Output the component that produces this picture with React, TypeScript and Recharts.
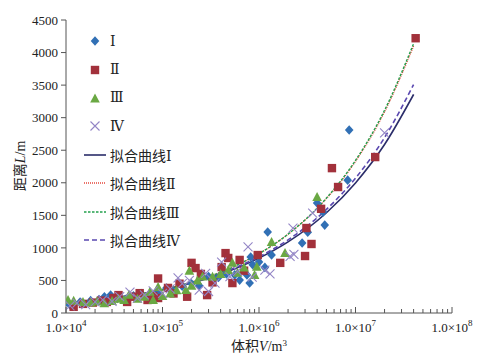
import React from "react";
import { ComposedChart, Scatter, Line, XAxis, YAxis, Legend } from "recharts";

// 散点数据 [体积 V (m³), 距离 L (m)]
const seriesI: [number, number][] = [
  [1.1e4, 125], [1.4e4, 170], [1.8e4, 190], [2.2e4, 205], [2.5e4, 250], [2.9e4, 275],
  [3.4e4, 225], [4.2e4, 215], [5e4, 265], [6e4, 300], [7.5e4, 250], [9e4, 320],
  [1.1e5, 385], [1.3e5, 330], [1.6e5, 410], [2e5, 450], [2.4e5, 420], [3e5, 560],
  [3.8e5, 545], [4.6e5, 600], [5.6e5, 585], [6.3e5, 505], [7.5e5, 585], [8e5, 460],
  [8.2e5, 860], [8.6e5, 740], [1e6, 785], [1.15e6, 700], [1.23e6, 1245], [1.35e6, 890],
  [2.8e6, 1075], [3.2e6, 1240], [4e6, 1690], [4.6e6, 1550], [4.8e6, 1350],
  [8.3e6, 2040], [8.6e6, 2810],
];
const seriesII: [number, number][] = [
  [1.2e4, 95], [1.5e4, 140], [1.9e4, 160], [2.3e4, 190], [2.65e4, 170], [3.1e4, 230],
  [3.5e4, 275], [4.3e4, 170], [5e4, 250], [5.8e4, 305], [7e4, 200], [8e4, 260],
  [9e4, 230], [9e4, 530], [1.14e5, 385], [1.3e5, 300], [1.5e5, 450], [1.8e5, 250],
  [2e5, 770], [2.2e5, 690], [2.5e5, 600], [2.9e5, 275], [3.3e5, 470], [4.1e5, 705],
  [4.5e5, 920], [4.8e5, 845], [5.3e5, 460], [6.3e5, 815], [7e5, 650], [9.7e5, 890],
  [1.66e6, 770], [3e6, 875], [3.1e6, 1305], [3.5e6, 1060], [4.4e6, 1600],
  [5.7e6, 2225], [6.6e6, 1935], [1.6e7, 2395], [4.2e7, 4220],
];
const seriesIII: [number, number][] = [
  [1.05e4, 200], [1.2e4, 190], [1.5e4, 170], [1.8e4, 160], [2.1e4, 175], [2.5e4, 150],
  [3e4, 185], [3.5e4, 220], [4e4, 200], [4.5e4, 280], [5.5e4, 220], [6.5e4, 250],
  [7.4e4, 325], [8e4, 200], [9e4, 400], [1e5, 260], [1.2e5, 300], [1.4e5, 350],
  [1.75e5, 355], [1.9e5, 650], [2e5, 420], [2.3e5, 500], [2.6e5, 560], [3.3e5, 555],
  [4e5, 600], [4.8e5, 660], [5.3e5, 770], [6e5, 620], [7e5, 700], [9e5, 585],
  [9.5e5, 710], [1.35e6, 1090], [1.86e6, 920], [4e6, 1780],
];
const seriesIV: [number, number][] = [
  [1.1e4, 110], [1.3e4, 150], [1.6e4, 130], [2e4, 170], [2.4e4, 200], [3e4, 180],
  [3.6e4, 250], [4.6e4, 320], [5.5e4, 230], [6.5e4, 280], [8e4, 340], [1e5, 300],
  [1.2e5, 370], [1.45e5, 540], [1.6e5, 450], [1.9e5, 500], [2.4e5, 350], [2.8e5, 610],
  [3e5, 330], [3.5e5, 460], [4.1e5, 780], [5e5, 560], [6e5, 640], [7.7e5, 1015],
  [8.5e5, 550], [1.15e6, 660], [1.3e6, 600], [2.1e6, 870], [2.3e6, 900],
  [2.25e6, 1305], [3.6e6, 1535], [2e7, 2765],
];

// 拟合曲线读数
const fitV = [1e4, 2e4, 5e4, 1e5, 2e5, 5e5, 1e6, 2e6, 5e6, 1e7, 2e7, 4e7];
const fitI = [150, 194, 274, 356, 461, 650, 843, 1092, 1540, 1998, 2588, 3356];
const fitII = [140, 186, 270, 357, 474, 688, 912, 1210, 1757, 2328, 3088, 4100];
const fitIII = [138, 183, 267, 355, 471, 686, 912, 1211, 1765, 2343, 3113, 4136];
const fitIV = [150, 195, 276, 360, 468, 663, 863, 1123, 1592, 2071, 2694, 3508];

const yTicks = [0, 500, 1000, 1500, 2000, 2500, 3000, 3500, 4000, 4500];
const decades = [1e4, 1e5, 1e6, 1e7];
const minorSteps = [1, 2, 3, 4, 5, 6, 7, 8, 9];
const xTicks = [...decades.flatMap((d) => minorSteps.map((m) => m * d)), 1e8];

const colors = {
  I: "#3170b5",
  II: "#a2313b",
  III: "#6aa843",
  IV: "#9385c6",
  fitI: "#2b2d6a",
  fitII: "#e5473b",
  fitIII: "#22a04c",
  fitIV: "#5a48b0",
};

const axisColor = "#555";
const serif = "Liberation Serif, DejaVu Serif, serif";
const cjk = "Liberation Serif, DejaVu Serif, Noto Sans CJK SC, serif";

const toPoints = (arr: [number, number][]) => arr.map(([V, L]) => ({ V, L }));
const toCurve = (vals: number[]) => vals.map((L, i) => ({ V: fitV[i], L }));

const Diamond = ({ cx, cy, fill }: any) => (
  <path d={`M${cx},${cy - 4.8}L${cx + 4.3},${cy}L${cx},${cy + 4.8}L${cx - 4.3},${cy}Z`} fill={fill} />
);
const Square = ({ cx, cy, fill }: any) => (
  <rect x={cx - 4.2} y={cy - 4.2} width={8.4} height={8.4} fill={fill} />
);
const Triangle = ({ cx, cy, fill }: any) => (
  <path d={`M${cx},${cy - 5}L${cx + 4.8},${cy + 4}L${cx - 4.8},${cy + 4}Z`} fill={fill} />
);
const Cross = ({ cx, cy, fill }: any) => (
  <path
    d={`M${cx - 4.5},${cy - 4.5}L${cx + 4.5},${cy + 4.5}M${cx - 4.5},${cy + 4.5}L${cx + 4.5},${cy - 4.5}`}
    stroke={fill}
    strokeWidth={1.1}
    fill="none"
  />
);

// 对数轴刻度（向内）
const XTick = (props: any) => {
  const { x, y, payload } = props;
  const v = payload.value as number;
  const exp = Math.round(Math.log10(v));
  const major = Math.abs(v - Math.pow(10, exp)) < v * 1e-6;
  return (
    <g>
      <line x1={x} x2={x} y1={y} y2={y - (major ? 6 : 4)} stroke={axisColor} strokeWidth={1} />
      {major && (
        <text x={x} y={y + 19} textAnchor="middle" fontFamily={serif} fontSize={13} fill="#222">
          {"1.0×10"}
          <tspan dy={-6} fontSize={9}>
            {exp}
          </tspan>
        </text>
      )}
    </g>
  );
};

const legendItems = [
  { label: "Ⅰ", kind: "diamond", color: colors.I },
  { label: "Ⅱ", kind: "square", color: colors.II },
  { label: "Ⅲ", kind: "triangle", color: colors.III },
  { label: "Ⅳ", kind: "cross", color: colors.IV },
  { label: "拟合曲线Ⅰ", kind: "line", color: colors.fitI, dash: undefined, w: 1.6 },
  { label: "拟合曲线Ⅱ", kind: "line", color: colors.fitII, dash: "1 1", w: 1.4 },
  { label: "拟合曲线Ⅲ", kind: "line", color: colors.fitIII, dash: "2.5 1.5", w: 1.5 },
  { label: "拟合曲线Ⅳ", kind: "line", color: colors.fitIV, dash: "5 3", w: 1.6 },
];

const renderLegend = () => (
  <div style={{ fontFamily: cjk, fontSize: 14, color: "#222" }}>
    {legendItems.map((item) => (
      <div key={item.label} style={{ height: 28.4, display: "flex", alignItems: "center" }}>
        <svg width={26} height={12} style={{ marginRight: 2 }}>
          {item.kind === "diamond" && <Diamond cx={13} cy={6} fill={item.color} />}
          {item.kind === "square" && <Square cx={13} cy={6} fill={item.color} />}
          {item.kind === "triangle" && <Triangle cx={13} cy={6.5} fill={item.color} />}
          {item.kind === "cross" && <Cross cx={13} cy={6} fill={item.color} />}
          {item.kind === "line" && (
            <line x1={2} x2={24} y1={6} y2={6} stroke={item.color} strokeWidth={item.w} strokeDasharray={item.dash} />
          )}
        </svg>
        <span>{item.label}</span>
      </div>
    ))}
  </div>
);

export default function App() {
  return (
    <div style={{ position: "absolute", left: 0, top: 0, background: "#fff" }}>
      <ComposedChart width={480} height={361} margin={{ top: 20, right: 28, bottom: 0, left: 0 }}>
        <XAxis
          dataKey="V"
          type="number"
          scale="log"
          domain={[1e4, 1e8]}
          ticks={xTicks}
          interval={0}
          allowDataOverflow
          height={48}
          tickSize={0}
          tickMargin={0}
          tickLine={false}
          tick={<XTick />}
          axisLine={{ stroke: axisColor }}
          label={{
            content: () => (
              <text x={259} y={351} textAnchor="middle" fontFamily={cjk} fontSize={14} fill="#222">
                体积<tspan fontStyle="italic">V</tspan>/m
                <tspan dy={-5} fontSize={9}>3</tspan>
              </text>
            ),
          }}
        />
        <YAxis
          dataKey="L"
          type="number"
          domain={[0, 4500]}
          ticks={yTicks}
          interval={0}
          width={66}
          tickSize={5}
          tickMargin={3}
          axisLine={{ stroke: axisColor }}
          tickLine={{ stroke: axisColor }}
          tick={{ fontFamily: serif, fontSize: 13, fill: "#222" }}
          label={{
            content: () => (
              <text
                x={25}
                y={166}
                transform="rotate(-90 25 166)"
                textAnchor="middle"
                fontFamily={cjk}
                fontSize={14}
                fill="#222"
              >
                距离<tspan fontStyle="italic">L</tspan>/m
              </text>
            ),
          }}
        />
        <Legend
          layout="vertical"
          align="center"
          verticalAlign="middle"
          content={renderLegend}
          wrapperStyle={{ left: 82, top: 27, width: 120 }}
        />
        <Scatter name="Ⅰ" data={toPoints(seriesI)} fill={colors.I} shape={<Diamond />} isAnimationActive={false} />
        <Scatter name="Ⅱ" data={toPoints(seriesII)} fill={colors.II} shape={<Square />} isAnimationActive={false} />
        <Scatter name="Ⅲ" data={toPoints(seriesIII)} fill={colors.III} shape={<Triangle />} isAnimationActive={false} />
        <Scatter name="Ⅳ" data={toPoints(seriesIV)} fill={colors.IV} shape={<Cross />} isAnimationActive={false} />
        <Line data={toCurve(fitI)} dataKey="L" type="monotone" stroke={colors.fitI} strokeWidth={1.6} dot={false} isAnimationActive={false} />
        <Line data={toCurve(fitIV)} dataKey="L" type="monotone" stroke={colors.fitIV} strokeWidth={1.6} strokeDasharray="5 3" dot={false} isAnimationActive={false} />
        <Line data={toCurve(fitII)} dataKey="L" type="monotone" stroke={colors.fitII} strokeWidth={1.3} strokeDasharray="1 1" dot={false} isAnimationActive={false} />
        <Line data={toCurve(fitIII)} dataKey="L" type="monotone" stroke={colors.fitIII} strokeWidth={1.4} strokeDasharray="2.5 1.5" dot={false} isAnimationActive={false} />
      </ComposedChart>
    </div>
  );
}
